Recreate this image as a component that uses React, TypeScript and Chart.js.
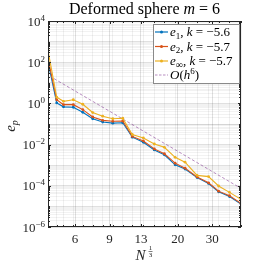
import React, { useEffect, useRef } from "react";
import { Chart, registerables } from "chart.js";

Chart.register(...registerables);

// ---- data ----
const xValues = [4.37, 4.84, 5.24, 5.88, 6.57, 7.38, 8.3, 9.34, 10.5, 11.74, 13.37, 15.2, 17.1, 19.4, 21.8, 25.1, 28.7, 32.3, 36.7, 42.0];
const e1Values = [100, 1.05, 0.68, 0.65, 0.37, 0.18, 0.125, 0.11, 0.115, 0.023, 0.013, 0.0055, 0.0032, 0.00104, 0.00065, 0.00025, 0.00013, 5.1e-5, 3.0e-5, 1.3e-5];
const e2Values = [150, 1.5, 0.87, 0.87, 0.5, 0.22, 0.15, 0.135, 0.14, 0.025, 0.015, 0.0062, 0.0036, 0.00126, 0.00072, 0.00027, 0.00014, 5.5e-5, 3.3e-5, 1.4e-5];
const eInfValues = [370, 2.0, 1.26, 1.5, 0.91, 0.36, 0.24, 0.18, 0.19, 0.031, 0.021, 0.0107, 0.0074, 0.0024, 0.0014, 0.00032, 0.00028, 9.8e-5, 4.8e-5, 2.2e-5];
const refX = [4.69, 42.0];
const refY = [15.9, 7.5e-5];

const xMajorTicks = [6, 9, 13, 20, 30];
const yLabelExps = [-6, -4, -2, 0, 2, 4];
const legendLabels = [
  { sym: "1", k: "−5.6" },
  { sym: "2", k: "−5.7" },
  { sym: "∞", k: "−5.7" },
];

const COLORS = ["#0072BD", "#D95319", "#EDB120"];
const REF_COLOR = "rgba(126,47,142,0.55)";
const AX = "#262626";
const FONT = '"Liberation Serif", "DejaVu Serif", serif';

type Seg = { t: string; it?: boolean; s?: number; dy?: number };

function richWidth(ctx: CanvasRenderingContext2D, segs: Seg[], base: number) {
  let w = 0;
  for (const sg of segs) {
    ctx.font = `${sg.it ? "italic " : ""}${sg.s ?? base}px ${FONT}`;
    w += ctx.measureText(sg.t).width;
  }
  return w;
}

function drawRich(ctx: CanvasRenderingContext2D, segs: Seg[], x: number, y: number, base: number, align: "left" | "center" | "right") {
  const w = richWidth(ctx, segs, base);
  let cx = align === "center" ? x - w / 2 : align === "right" ? x - w : x;
  ctx.textAlign = "left";
  ctx.textBaseline = "alphabetic";
  for (const sg of segs) {
    ctx.font = `${sg.it ? "italic " : ""}${sg.s ?? base}px ${FONT}`;
    ctx.fillText(sg.t, cx, y + (sg.dy ?? 0));
    cx += ctx.measureText(sg.t).width;
  }
}

function xTickList(): number[] {
  const all = Array.from(new Set([...xValues, ...xMajorTicks]));
  return all.sort((a, b) => a - b);
}

function yTickList(): number[] {
  const out: number[] = [];
  for (let e = -6; e <= 4; e++) {
    for (let m = 1; m <= 9; m++) {
      out.push(m * Math.pow(10, e));
      if (e === 4) break;
    }
  }
  return out;
}

const isDecade = (v: number) => Math.abs(Math.log10(v) - Math.round(Math.log10(v))) < 1e-6;

const decorPlugin = {
  id: "decor",
  afterDraw(chart: any) {
    const ctx: CanvasRenderingContext2D = chart.ctx;
    const { left, right, top, bottom } = chart.chartArea;
    const xs = chart.scales.x;
    const ys = chart.scales.y;
    ctx.save();
    // frame
    ctx.strokeStyle = AX;
    ctx.lineWidth = 1;
    ctx.strokeRect(Math.round(left) + 0.5, Math.round(top) + 0.5, Math.round(right - left) - 1, Math.round(bottom - top) - 1);
    // inward ticks
    ctx.beginPath();
    for (const v of xTickList()) {
      const px = Math.round(xs.getPixelForValue(v)) + 0.5;
      const len = xMajorTicks.includes(v) ? 3 : 2;
      ctx.moveTo(px, bottom);
      ctx.lineTo(px, bottom - len);
      ctx.moveTo(px, top);
      ctx.lineTo(px, top + len);
    }
    for (const v of yTickList()) {
      const py = Math.round(ys.getPixelForValue(v)) + 0.5;
      const len = isDecade(v) && yLabelExps.includes(Math.round(Math.log10(v))) ? 3 : 2;
      ctx.moveTo(left, py);
      ctx.lineTo(left + len, py);
      ctx.moveTo(right, py);
      ctx.lineTo(right - len, py);
    }
    ctx.stroke();

    ctx.fillStyle = AX;
    // y tick labels
    for (const e of yLabelExps) {
      const py = ys.getPixelForValue(Math.pow(10, e));
      const expStr = e < 0 ? "−" + Math.abs(e) : String(e);
      drawRich(ctx, [{ t: "10" }, { t: expStr, s: 9, dy: -5 }], left - 3, py + 4.5, 13, "right");
    }
    // title
    ctx.fillStyle = "#000";
    drawRich(ctx, [{ t: "Deformed sphere " }, { t: "m", it: true }, { t: " = 6" }], (left + right) / 2, 14, 16, "center");
    // x label
    ctx.fillStyle = AX;
    const nx = (left + right) / 2 - 4;
    ctx.font = `italic 15px ${FONT}`;
    ctx.textAlign = "center";
    ctx.textBaseline = "alphabetic";
    ctx.fillText("N", nx, 260);
    ctx.font = `7px ${FONT}`;
    ctx.fillText("1", nx + 10, 250);
    ctx.fillText("3", nx + 10, 257);
    ctx.beginPath();
    ctx.lineWidth = 0.6;
    ctx.moveTo(nx + 8, 251.5);
    ctx.lineTo(nx + 12, 251.5);
    ctx.stroke();
    // y label
    ctx.save();
    ctx.translate(15, (top + bottom) / 2 + 2);
    ctx.rotate(-Math.PI / 2);
    drawRich(ctx, [{ t: "e", it: true }, { t: "p", it: true, s: 10, dy: 3 }], 0, 0, 15, "center");
    ctx.restore();

    // legend
    const lx = 153, ly = 24, lw = 86, lh = 59;
    ctx.fillStyle = "#fff";
    ctx.fillRect(lx, ly, lw, lh);
    ctx.strokeStyle = "#8a8a8a";
    ctx.lineWidth = 1;
    ctx.strokeRect(lx + 0.5, ly + 0.5, lw, lh);
    const rowY = [32, 46.5, 61, 75];
    for (let i = 0; i < 4; i++) {
      const y = rowY[i];
      ctx.beginPath();
      if (i < 3) {
        ctx.strokeStyle = COLORS[i];
        ctx.setLineDash([]);
        ctx.lineWidth = 1.2;
      } else {
        ctx.strokeStyle = REF_COLOR;
        ctx.setLineDash([2.5, 1.5]);
        ctx.lineWidth = 1;
      }
      ctx.moveTo(155, y);
      ctx.lineTo(168, y);
      ctx.stroke();
      ctx.setLineDash([]);
      if (i < 3) {
        ctx.fillStyle = COLORS[i];
        ctx.beginPath();
        ctx.arc(161.5, y, 1.5, 0, Math.PI * 2);
        ctx.fill();
      }
      ctx.fillStyle = "#000";
      if (i < 3) {
        const L = legendLabels[i];
        drawRich(
          ctx,
          [
            { t: "e", it: true },
            { t: L.sym, s: L.sym === "∞" ? 10 : 9, dy: 2.5 },
            { t: ", " },
            { t: "k", it: true },
            { t: " = " + L.k },
          ],
          170,
          y + 4,
          13,
          "left"
        );
      } else {
        drawRich(ctx, [{ t: "O", it: true }, { t: "(" }, { t: "h", it: true }, { t: "6", s: 9, dy: -5 }, { t: ")" }], 170, y + 4, 13, "left");
      }
    }
    ctx.restore();
  },
};

export default function App() {
  const ref = useRef<HTMLCanvasElement | null>(null);
  useEffect(() => {
    document.body.style.margin = "0";
    const canvas = ref.current!;
    const mk = (vals: number[]) => xValues.map((x, i) => ({ x, y: vals[i] }));
    const series = [e1Values, e2Values, eInfValues];
    const datasets: any[] = series.map((vals, i) => ({
      data: mk(vals),
      borderColor: COLORS[i],
      backgroundColor: COLORS[i],
      borderWidth: 1.1,
      pointRadius: 1.4,
      pointBorderWidth: 0,
      pointBackgroundColor: COLORS[i],
      order: 3 - i,
      tension: 0,
    }));
    datasets.push({
      data: refX.map((x, i) => ({ x, y: refY[i] })),
      borderColor: REF_COLOR,
      borderWidth: 1,
      borderDash: [3, 2],
      pointRadius: 0,
      order: 10,
    });
    const chart = new Chart(canvas, {
      type: "line",
      data: { datasets },
      options: {
        animation: false,
        responsive: false,
        layout: { padding: { left: 0, right: 25, top: 21, bottom: 0 } },
        plugins: { legend: { display: false }, title: { display: false }, tooltip: { enabled: false } },
        scales: {
          x: {
            type: "logarithmic",
            min: xValues[0],
            max: xValues[xValues.length - 1],
            afterBuildTicks: (s: any) => {
              s.ticks = xTickList().map((v) => ({ value: v }));
            },
            afterFit: (s: any) => {
              s.height = 39;
            },
            ticks: {
              autoSkip: false,
              maxRotation: 0,
              minRotation: 0,
              padding: 5,
              color: AX,
              font: { family: FONT, size: 13 },
              callback: (v: any) => (xMajorTicks.includes(Number(v)) ? String(v) : ""),
            },
            grid: {
              drawTicks: false,
              color: (c: any) => (xMajorTicks.includes(c.tick?.value) ? "rgba(38,38,38,0.14)" : "rgba(38,38,38,0.07)"),
              lineWidth: 1,
            },
            border: { display: false },
          },
          y: {
            type: "logarithmic",
            min: 1e-6,
            max: 1e4,
            afterBuildTicks: (s: any) => {
              s.ticks = yTickList().map((v) => ({ value: v }));
            },
            afterFit: (s: any) => {
              s.width = 48;
            },
            ticks: { display: false },
            grid: {
              drawTicks: false,
              color: (c: any) => (c.tick && isDecade(c.tick.value) ? "rgba(38,38,38,0.14)" : "rgba(38,38,38,0.06)"),
              lineWidth: 1,
            },
            border: { display: false },
          },
        },
      },
      plugins: [decorPlugin],
    });
    return () => chart.destroy();
  }, []);
  return (
    <div style={{ position: "fixed", left: 0, top: 0, width: 266, height: 266, background: "#fff" }}>
      <canvas ref={ref} width={266} height={266} style={{ width: 266, height: 266, display: "block" }} />
    </div>
  );
}
